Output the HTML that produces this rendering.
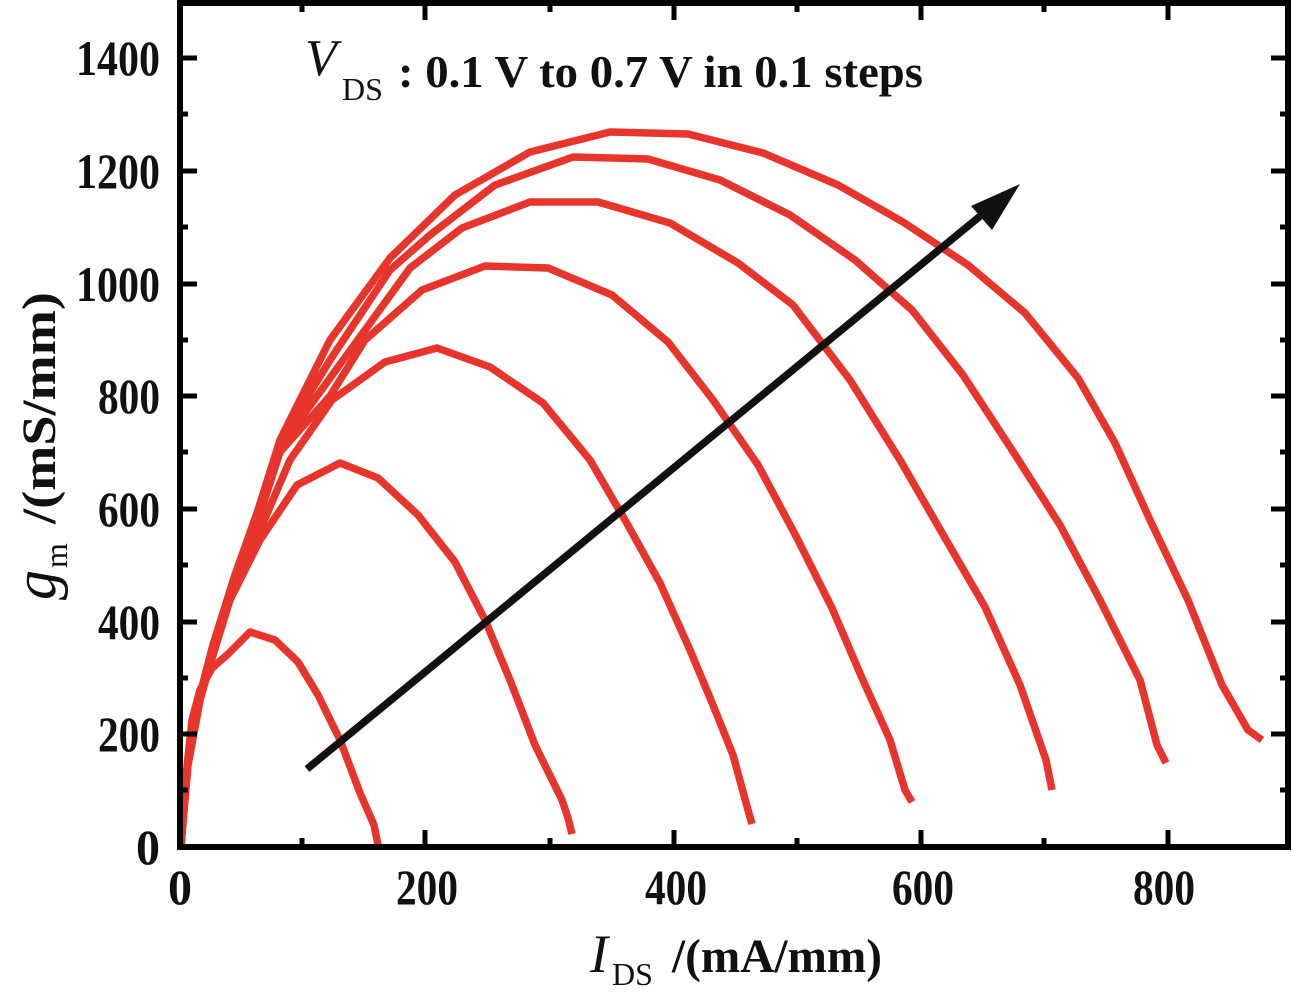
<!DOCTYPE html>
<html><head><style>html,body{margin:0;padding:0;background:#fff}svg{display:block}</style></head>
<body>
<svg width="1294" height="1004" viewBox="0 0 1294 1004" xmlns="http://www.w3.org/2000/svg" font-family="'Liberation Serif', serif">
<g fill="none" stroke="#e8352b" stroke-width="7.5" stroke-linejoin="round" stroke-linecap="butt">
<polyline points="181,845 185,785 192,720 200,690 212,668 227,655 250,632 275,640 298,662 318,695 340,740 360,793 374,825 378,845"/>
<polyline points="181,845 187,770 200,700 213,655 230,600 260,540 297,485 340,463 378,478 418,515 455,562 485,620 510,680 535,745 562,800 568,818 572,834"/>
<polyline points="181,845 188,765 200,700 213,650 233,588 260,530 290,460 332,400 385,362 437,348 490,367 543,403 590,460 625,520 660,583 690,650 713,705 733,755 748,810 752,824"/>
<polyline points="181,845 188,762 200,698 213,648 235,580 258,520 280,452 330,396 365,340 422,290 485,266 548,268 612,295 668,342 713,400 758,465 797,538 832,608 862,678 890,740 905,790 912,802"/>
<polyline points="181,845 188,760 200,696 213,646 235,578 258,515 280,447 325,385 365,330 410,268 462,228 530,202 598,202 670,223 738,263 793,305 850,380 900,460 945,538 985,607 1020,685 1046,760 1052,790"/>
<polyline points="181,845 188,760 200,695 213,645 235,575 258,512 280,442 330,360 390,270 430,235 495,185 573,157 648,159 720,180 790,215 855,260 912,310 963,375 1012,450 1060,525 1100,600 1140,680 1157,745 1166,763"/>
<polyline points="181,845 188,760 200,695 213,645 235,575 258,510 280,440 330,340 390,258 455,195 530,152 610,132 688,134 763,153 838,185 903,222 968,265 1025,313 1078,378 1115,443 1150,520 1188,600 1222,685 1248,730 1262,740"/>
</g>
<line x1="307" y1="769" x2="990" y2="208" stroke="#111" stroke-width="7.5"/>
<polygon points="1020,184 971,206 992,230" fill="#111"/>
<rect x="180" y="3" width="1108" height="844" fill="none" stroke="#000" stroke-width="6"/>
<g stroke="#000" stroke-width="5">
<line x1="425" y1="847" x2="425" y2="830"/><line x1="674" y1="847" x2="674" y2="830"/><line x1="921" y1="847" x2="921" y2="830"/><line x1="1168" y1="847" x2="1168" y2="830"/>
<line x1="302" y1="847" x2="302" y2="838"/><line x1="550" y1="847" x2="550" y2="838"/><line x1="797" y1="847" x2="797" y2="838"/><line x1="1044" y1="847" x2="1044" y2="838"/>
<line x1="425" y1="3" x2="425" y2="20"/><line x1="674" y1="3" x2="674" y2="20"/><line x1="921" y1="3" x2="921" y2="20"/><line x1="1168" y1="3" x2="1168" y2="20"/>
<line x1="302" y1="3" x2="302" y2="12"/><line x1="550" y1="3" x2="550" y2="12"/><line x1="797" y1="3" x2="797" y2="12"/><line x1="1044" y1="3" x2="1044" y2="12"/>
<line x1="180" y1="734" x2="197" y2="734"/><line x1="180" y1="622" x2="197" y2="622"/><line x1="180" y1="509" x2="197" y2="509"/><line x1="180" y1="396" x2="197" y2="396"/><line x1="180" y1="284" x2="197" y2="284"/><line x1="180" y1="171" x2="197" y2="171"/><line x1="180" y1="58" x2="197" y2="58"/>
<line x1="180" y1="790" x2="188" y2="790"/><line x1="180" y1="678" x2="188" y2="678"/><line x1="180" y1="565" x2="188" y2="565"/><line x1="180" y1="452" x2="188" y2="452"/><line x1="180" y1="340" x2="188" y2="340"/><line x1="180" y1="227" x2="188" y2="227"/><line x1="180" y1="114" x2="188" y2="114"/>
<line x1="1288" y1="734" x2="1271" y2="734"/><line x1="1288" y1="622" x2="1271" y2="622"/><line x1="1288" y1="509" x2="1271" y2="509"/><line x1="1288" y1="396" x2="1271" y2="396"/><line x1="1288" y1="284" x2="1271" y2="284"/><line x1="1288" y1="171" x2="1271" y2="171"/><line x1="1288" y1="58" x2="1271" y2="58"/>
<line x1="1288" y1="790" x2="1280" y2="790"/><line x1="1288" y1="678" x2="1280" y2="678"/><line x1="1288" y1="565" x2="1280" y2="565"/><line x1="1288" y1="452" x2="1280" y2="452"/><line x1="1288" y1="340" x2="1280" y2="340"/><line x1="1288" y1="227" x2="1280" y2="227"/><line x1="1288" y1="114" x2="1280" y2="114"/>
</g>
<g font-weight="bold" font-size="50" fill="#111" text-anchor="end">
<text x="160" y="864" textLength="24" lengthAdjust="spacingAndGlyphs">0</text>
<text x="160" y="751" textLength="62" lengthAdjust="spacingAndGlyphs">200</text>
<text x="160" y="639" textLength="62" lengthAdjust="spacingAndGlyphs">400</text>
<text x="160" y="526" textLength="62" lengthAdjust="spacingAndGlyphs">600</text>
<text x="160" y="413" textLength="62" lengthAdjust="spacingAndGlyphs">800</text>
<text x="160" y="301" textLength="84" lengthAdjust="spacingAndGlyphs">1000</text>
<text x="160" y="188" textLength="84" lengthAdjust="spacingAndGlyphs">1200</text>
<text x="160" y="75" textLength="84" lengthAdjust="spacingAndGlyphs">1400</text>
</g>
<g font-weight="bold" font-size="50" fill="#111" text-anchor="middle">
<text x="180" y="904" textLength="24" lengthAdjust="spacingAndGlyphs">0</text>
<text x="427" y="904" textLength="62" lengthAdjust="spacingAndGlyphs">200</text>
<text x="676" y="904" textLength="62" lengthAdjust="spacingAndGlyphs">400</text>
<text x="923" y="904" textLength="62" lengthAdjust="spacingAndGlyphs">600</text>
<text x="1164" y="904" textLength="62" lengthAdjust="spacingAndGlyphs">800</text>
</g>
<text x="305" y="75" font-style="italic" font-size="52" fill="#111">V</text>
<text x="342" y="100" font-size="32" fill="#111">DS</text>
<text x="398" y="87" font-size="46" font-weight="bold" fill="#111" textLength="525" lengthAdjust="spacingAndGlyphs">: 0.1 V to 0.7 V in 0.1 steps</text>
<text x="590" y="972" font-style="italic" font-size="54" fill="#111">I</text>
<text x="612" y="985" font-size="32" fill="#111">DS</text>
<text x="672" y="972" font-size="48" font-weight="bold" fill="#111" textLength="210" lengthAdjust="spacingAndGlyphs">/(mA/mm)</text>
<g transform="translate(55,600) rotate(-90)">
<text x="0" y="0" font-style="italic" font-size="60" fill="#111">g</text>
<text x="32" y="12" font-size="32" fill="#111">m</text>
<text x="76" y="0" font-size="48" font-weight="bold" fill="#111" textLength="232" lengthAdjust="spacingAndGlyphs">/(mS/mm)</text>
</g>
</svg>
</body></html>
